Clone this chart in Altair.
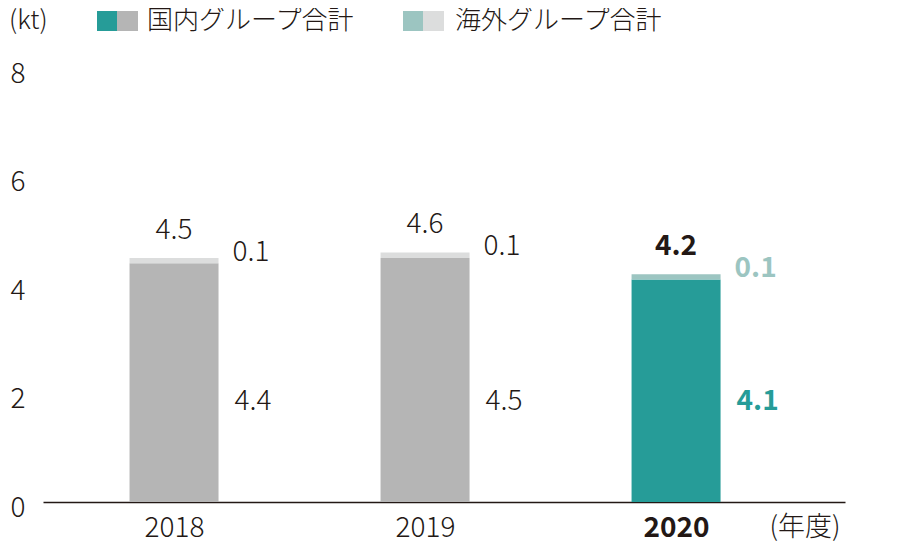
import altair as alt
import pandas as pd

years = ["2018", "2019", "2020"]
domestic = [4.4, 4.5, 4.1]
overseas = [0.1, 0.1, 0.1]
totals = [4.5, 4.6, 4.2]
y_ticks = [0, 2, 4, 6, 8]

TEAL = "#269c98"
TEAL_L = "#9cc5c1"
GRAY = "#b5b5b5"
GRAY_L = "#dcdddd"
INK = "#231815"
FONT = "Noto Sans CJK JP"
FS = 28
LW = 300

df = pd.DataFrame({
    "idx": list(range(len(years))),
    "year": years,
    "domestic": domestic,
    "overseas": overseas,
    "total": totals,
})
df["top"] = df["domestic"] + df["overseas"]

W, H = 802, 434
BAR = 89

xscale = alt.Scale(domain=[-0.522, 2.673], nice=False, zero=False, padding=0)
yscale = alt.Scale(domain=[0, 8], nice=False, padding=0)

is2020 = "datum.year == '2020'"

base = alt.Chart(df)

x_enc = alt.X(
    "idx:Q",
    scale=xscale,
    axis=alt.Axis(
        values=[0, 1, 2],
        labelExpr="['2018','2019','2020'][datum.value]",
        labelFontSize=FS,
        labelFont=FONT,
        labelColor=INK,
        labelFontWeight={"condition": {"test": "datum.value == 2", "value": "bold"}, "value": LW},
        labelPadding=12,
        ticks=False,
        grid=False,
        domainColor=INK,
        domainWidth=1.5,
        title="(年度)",
        titleFont=FONT,
        titleFontSize=27,
        titleFontWeight=LW,
        titleColor=INK,
        titleAnchor="end",
        titleAlign="right",
        titleBaseline="top",
        titleX=W - 5,
        titleY=12,
    ),
)

y_enc = alt.Y(
    "domestic:Q",
    scale=yscale,
    axis=alt.Axis(
        values=y_ticks,
        labelFontSize=FS,
        labelFont=FONT,
        labelFontWeight=LW,
        labelColor=INK,
        labelAlign="right",
        labelBaseline="middle",
        labelOffset=6,
        labelPadding=18,
        ticks=False,
        grid=False,
        domain=False,
        title=None,
    ),
)

dom_bars = base.mark_bar(size=BAR).encode(
    x=x_enc,
    y=y_enc,
    y2=alt.Y2(datum=0),
    color=alt.condition(is2020, alt.value(TEAL), alt.value(GRAY)),
)

ovs_bars = base.mark_bar(size=BAR).encode(
    x=alt.X("idx:Q", scale=xscale),
    y=alt.Y("domestic:Q", scale=yscale),
    y2="top:Q",
    color=alt.condition(is2020, alt.value(TEAL_L), alt.value(GRAY_L)),
)

old = base.transform_filter("datum.year != '2020'")
new = base.transform_filter(is2020)

tot_old = old.mark_text(font=FONT, fontSize=FS, fontWeight=LW, color=INK, dy=-27, baseline="middle").encode(
    x=alt.X("idx:Q", scale=xscale), y=alt.Y("top:Q", scale=yscale),
    text=alt.Text("total:Q", format=".1f"))
tot_new = new.mark_text(font=FONT, fontSize=FS, fontWeight="bold", color=INK, dy=-27, baseline="middle").encode(
    x=alt.X("idx:Q", scale=xscale), y=alt.Y("top:Q", scale=yscale),
    text=alt.Text("total:Q", format=".1f"))

ovs_old = old.mark_text(font=FONT, fontSize=FS, fontWeight=LW, color=INK, dx=BAR / 2 + 14, dy=-5, align="left", baseline="middle").encode(
    x=alt.X("idx:Q", scale=xscale), y=alt.Y("top:Q", scale=yscale),
    text=alt.Text("overseas:Q", format=".1f"))
ovs_new = new.mark_text(font=FONT, fontSize=FS, fontWeight="bold", color=TEAL_L, dx=BAR / 2 + 14, dy=-5, align="left", baseline="middle").encode(
    x=alt.X("idx:Q", scale=xscale), y=alt.Y("top:Q", scale=yscale),
    text=alt.Text("overseas:Q", format=".1f"))

dom_old = old.mark_text(font=FONT, fontSize=FS, fontWeight=LW, color=INK, dx=BAR / 2 + 16, align="left", baseline="middle").encode(
    x=alt.X("idx:Q", scale=xscale), y=alt.value(334),
    text=alt.Text("domestic:Q", format=".1f"))
dom_new = new.mark_text(font=FONT, fontSize=FS, fontWeight="bold", color=TEAL, dx=BAR / 2 + 16, align="left", baseline="middle").encode(
    x=alt.X("idx:Q", scale=xscale), y=alt.value(334),
    text=alt.Text("domestic:Q", format=".1f"))

# legend
LY = -47
leg = alt.Chart(pd.DataFrame({"k": [0]}))
sw1a = leg.mark_rect(color=TEAL).encode(x=alt.value(54), x2=alt.value(74), y=alt.value(LY - 10), y2=alt.value(LY + 10))
sw1b = leg.mark_rect(color=GRAY).encode(x=alt.value(74), x2=alt.value(95), y=alt.value(LY - 10), y2=alt.value(LY + 10))
sw2a = leg.mark_rect(color=TEAL_L).encode(x=alt.value(360), x2=alt.value(380), y=alt.value(LY - 10), y2=alt.value(LY + 10))
sw2b = leg.mark_rect(color=GRAY_L).encode(x=alt.value(380), x2=alt.value(401), y=alt.value(LY - 10), y2=alt.value(LY + 10))
t1 = leg.mark_text(font=FONT, fontSize=26, fontWeight=LW, color=INK, align="left", baseline="middle").encode(
    x=alt.value(104), y=alt.value(LY), text=alt.value("国内グループ合計"))
t2 = leg.mark_text(font=FONT, fontSize=26, fontWeight=LW, color=INK, align="left", baseline="middle").encode(
    x=alt.value(412), y=alt.value(LY), text=alt.value("海外グループ合計"))
unit = leg.mark_text(font=FONT, fontSize=26, fontWeight=LW, color=INK, align="left", baseline="middle").encode(
    x=alt.value(-34), y=alt.value(LY), text=alt.value("(kt)"))

chart = alt.layer(
    dom_bars, ovs_bars, tot_old, tot_new, ovs_old, ovs_new, dom_old, dom_new,
    sw1a, sw1b, sw2a, sw2b, t1, t2, unit,
).properties(
    width=W, height=H,
    background="white",
    autosize=alt.AutoSizeParams(type="none"),
    padding={"left": 35, "top": 60, "right": 60, "bottom": 42},
).configure_view(strokeWidth=0, stroke="transparent")

chart.save("out.html", embed_options={"renderer": "svg", "actions": False})
